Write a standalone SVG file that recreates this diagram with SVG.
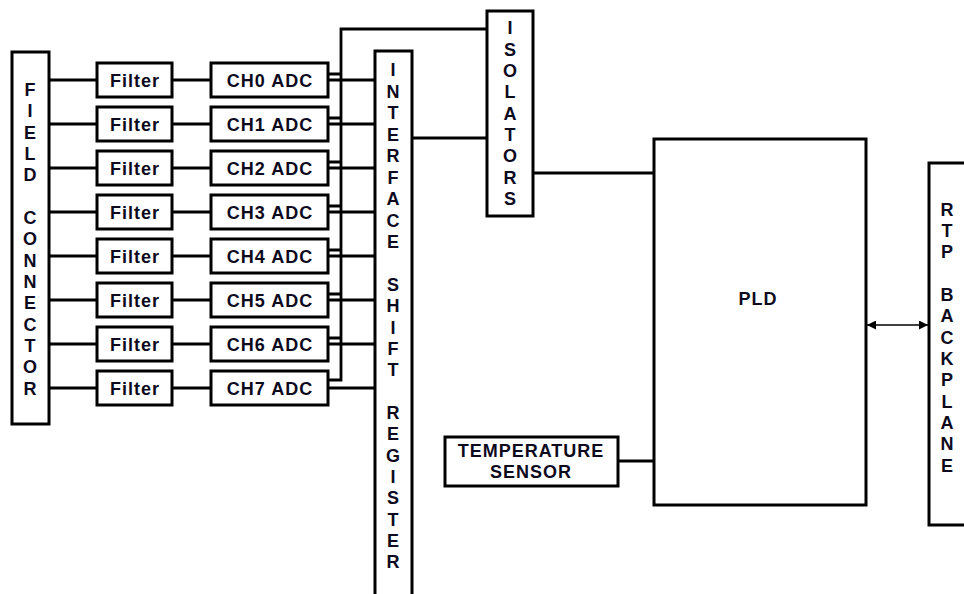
<svg xmlns="http://www.w3.org/2000/svg" width="964" height="594" viewBox="0 0 964 594">
<style>
.box{fill:#fff;stroke:#000;stroke-width:3}
.ln{fill:none;stroke:#000;stroke-width:2.8}
.t{font-family:"Liberation Sans",Arial,sans-serif;font-weight:bold;font-size:18px;fill:#0d0a1e;letter-spacing:1px;text-anchor:middle}
.v{font-family:"Liberation Sans",Arial,sans-serif;font-weight:bold;font-size:18px;fill:#0d0a1e;text-anchor:middle}
</style>
<defs>
<marker id="ah" viewBox="0 0 10 10" refX="10" refY="5" markerWidth="10" markerHeight="9" markerUnits="userSpaceOnUse" orient="auto-start-reverse">
<path d="M0,0 L10,5 L0,10 Z" fill="#000"/>
</marker>
</defs>
<rect width="964" height="594" fill="#fff"/>
<g id="connectors">
<path class="ln" d="M49,80H97M49,124H97M49,168H97M49,212H97M49,256H97M49,300H97M49,344H97M49,388H97"/>
<path class="ln" d="M172,80H211M172,124H211M172,168H211M172,212H211M172,256H211M172,300H211M172,344H211M172,388H211"/>
<path class="ln" d="M328,80H374M328,124H374M328,168H374M328,212H374M328,256H374M328,300H374M328,344H374M328,388H374"/>
<path class="ln" d="M328,74H341M328,118H341M328,162H341M328,206H341M328,250H341M328,294H341M328,338H341"/>
<path class="ln" d="M328,380H341V29H486"/>
<path class="ln" d="M412,138H486"/>
<path class="ln" d="M533,173H654"/>
<path class="ln" d="M618,461H654"/>
<line x1="867" y1="325" x2="928" y2="325" stroke="#000" stroke-width="1.6" marker-start="url(#ah)" marker-end="url(#ah)"/>
</g>
<g id="field-connector">
<rect class="box" x="12" y="52" width="37" height="372"/>
<text class="v"><tspan x="30" y="96">F</tspan><tspan x="30" y="117">I</tspan><tspan x="30" y="139">E</tspan><tspan x="30" y="160">L</tspan><tspan x="30" y="181">D</tspan><tspan x="30" y="224">C</tspan><tspan x="30" y="245">O</tspan><tspan x="30" y="267">N</tspan><tspan x="30" y="288">N</tspan><tspan x="30" y="309">E</tspan><tspan x="30" y="331">C</tspan><tspan x="30" y="352">T</tspan><tspan x="30" y="373">O</tspan><tspan x="30" y="395">R</tspan></text>
</g>
<g id="filter0"><rect class="box" x="97" y="63" width="75" height="34"/><text class="t" x="135" y="87">Filter</text></g>
<g id="filter1"><rect class="box" x="97" y="107" width="75" height="34"/><text class="t" x="135" y="131">Filter</text></g>
<g id="filter2"><rect class="box" x="97" y="151" width="75" height="34"/><text class="t" x="135" y="175">Filter</text></g>
<g id="filter3"><rect class="box" x="97" y="195" width="75" height="34"/><text class="t" x="135" y="219">Filter</text></g>
<g id="filter4"><rect class="box" x="97" y="239" width="75" height="34"/><text class="t" x="135" y="263">Filter</text></g>
<g id="filter5"><rect class="box" x="97" y="283" width="75" height="34"/><text class="t" x="135" y="307">Filter</text></g>
<g id="filter6"><rect class="box" x="97" y="327" width="75" height="34"/><text class="t" x="135" y="351">Filter</text></g>
<g id="filter7"><rect class="box" x="97" y="371" width="75" height="34"/><text class="t" x="135" y="395">Filter</text></g>
<g id="adc0"><rect class="box" x="211" y="63" width="117" height="34"/><text class="t" x="270" y="87">CH0 ADC</text></g>
<g id="adc1"><rect class="box" x="211" y="107" width="117" height="34"/><text class="t" x="270" y="131">CH1 ADC</text></g>
<g id="adc2"><rect class="box" x="211" y="151" width="117" height="34"/><text class="t" x="270" y="175">CH2 ADC</text></g>
<g id="adc3"><rect class="box" x="211" y="195" width="117" height="34"/><text class="t" x="270" y="219">CH3 ADC</text></g>
<g id="adc4"><rect class="box" x="211" y="239" width="117" height="34"/><text class="t" x="270" y="263">CH4 ADC</text></g>
<g id="adc5"><rect class="box" x="211" y="283" width="117" height="34"/><text class="t" x="270" y="307">CH5 ADC</text></g>
<g id="adc6"><rect class="box" x="211" y="327" width="117" height="34"/><text class="t" x="270" y="351">CH6 ADC</text></g>
<g id="adc7"><rect class="box" x="211" y="371" width="117" height="34"/><text class="t" x="270" y="395">CH7 ADC</text></g>
<g id="interface-shift-register">
<rect class="box" x="375" y="51" width="37" height="560"/>
<text class="v"><tspan x="393" y="76">I</tspan><tspan x="393" y="98">N</tspan><tspan x="393" y="119">T</tspan><tspan x="393" y="141">E</tspan><tspan x="393" y="162">R</tspan><tspan x="393" y="184">F</tspan><tspan x="393" y="205">A</tspan><tspan x="393" y="227">C</tspan><tspan x="393" y="248">E</tspan><tspan x="393" y="291">S</tspan><tspan x="393" y="312">H</tspan><tspan x="393" y="334">I</tspan><tspan x="393" y="355">F</tspan><tspan x="393" y="376">T</tspan><tspan x="393" y="419">R</tspan><tspan x="393" y="440">E</tspan><tspan x="393" y="462">G</tspan><tspan x="393" y="483">I</tspan><tspan x="393" y="504">S</tspan><tspan x="393" y="526">T</tspan><tspan x="393" y="547">E</tspan><tspan x="393" y="568">R</tspan></text>
</g>
<g id="isolators">
<rect class="box" x="487" y="11" width="46" height="205"/>
<text class="v"><tspan x="510" y="34">I</tspan><tspan x="510" y="56">S</tspan><tspan x="510" y="77">O</tspan><tspan x="510" y="98">L</tspan><tspan x="510" y="120">A</tspan><tspan x="510" y="141">T</tspan><tspan x="510" y="162">O</tspan><tspan x="510" y="184">R</tspan><tspan x="510" y="205">S</tspan></text>
</g>
<g id="pld">
<rect class="box" x="654" y="139" width="212" height="366"/>
<text class="t" x="758" y="305">PLD</text>
</g>
<g id="temperature-sensor">
<rect class="box" x="445" y="437" width="173" height="49"/>
<text class="t" x="531" y="457">TEMPERATURE</text>
<text class="t" x="531" y="478">SENSOR</text>
</g>
<g id="rtp-backplane">
<rect class="box" x="929" y="163" width="50" height="362"/>
<text class="v"><tspan x="947" y="216">R</tspan><tspan x="947" y="237">T</tspan><tspan x="947" y="258">P</tspan><tspan x="947" y="301">B</tspan><tspan x="947" y="322">A</tspan><tspan x="947" y="344">C</tspan><tspan x="947" y="365">K</tspan><tspan x="947" y="386">P</tspan><tspan x="947" y="408">L</tspan><tspan x="947" y="429">A</tspan><tspan x="947" y="450">N</tspan><tspan x="947" y="472">E</tspan></text>
</g>
</svg>
